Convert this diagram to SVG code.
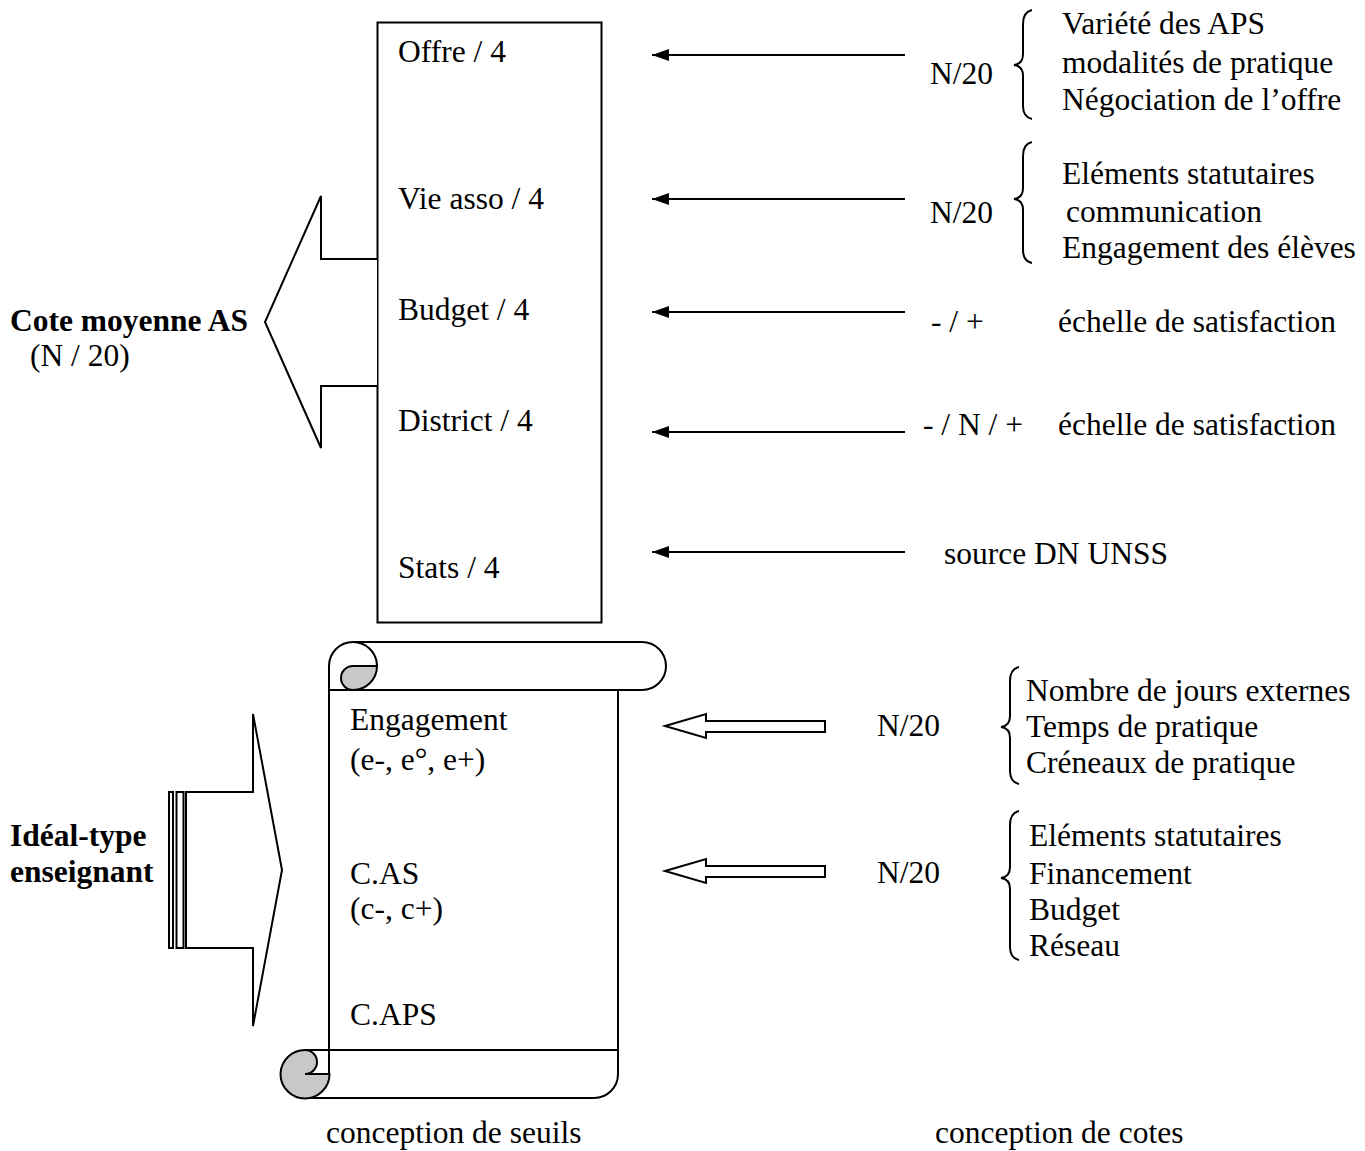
<svg xmlns="http://www.w3.org/2000/svg" width="1365" height="1151" viewBox="0 0 1365 1151">
<style>
text{font-family:"Liberation Serif","Times New Roman",serif;font-size:31.5px;fill:#000}
.b{font-weight:bold}
.s{fill:none;stroke:#000;stroke-width:2}
.h{fill:#fff;stroke:#000;stroke-width:2;stroke-linejoin:miter}
.g{fill:#c8c8c8;stroke:#000;stroke-width:2}
</style>
<defs>
<marker id="ah" markerUnits="userSpaceOnUse" markerWidth="18" markerHeight="14" refX="17" refY="7" orient="auto">
<path d="M17,7 L0,1 L0,13 Z" fill="#000"/>
</marker>
</defs>
<rect width="1365" height="1151" fill="#fff"/>

<g id="main-box">
<rect x="377.5" y="22.5" width="224" height="600" class="s"/>
<text x="398" y="62">Offre / 4</text>
<text x="398" y="209">Vie asso / 4</text>
<text x="398" y="320">Budget / 4</text>
<text x="398" y="431">District / 4</text>
<text x="398" y="578">Stats / 4</text>
</g>

<g id="cote-arrow">
<path class="h" d="M377,259 L321,259 L321,196 L265,322 L321,448 L321,386 L377,386"/>
<text class="b" x="10" y="331">Cote moyenne AS</text>
<text x="30" y="366">(N / 20)</text>
</g>

<g id="scroll">
<path class="s" d="M329,1074 L329,666 A24,24 0 0 1 353,642 L642,642 A24,24 0 0 1 642,690 L329,690"/>
<path class="s" d="M353,642 A24,24 0 0 1 377,666"/>
<path class="g" d="M353,666 L377,666 A24,24 0 0 1 353,690 A12,12 0 0 1 353,666 Z"/>
<path class="s" d="M618,690 L618,1074 A24,24 0 0 1 594,1098 L305,1098"/>
<path class="s" d="M305,1050 L618,1050"/>
<path class="g" d="M305,1050 A12,12 0 0 1 305,1074 L329.5,1074 A24.5,24.5 0 0 1 305,1098.5 A24.5,24.5 0 0 1 280.5,1074 A24.5,24.5 0 0 1 305,1050 Z"/>
<text x="350" y="730">Engagement</text>
<text x="350" y="770">(e-, e°, e+)</text>
<text x="350" y="884">C.AS</text>
<text x="350" y="919">(c-, c+)</text>
<text x="350" y="1025">C.APS</text>
</g>

<g id="ideal-arrow">
<rect x="169" y="792" width="4" height="156" class="s" stroke-width="1.5"/>
<rect x="176.5" y="792" width="7" height="156" class="s" stroke-width="1.5"/>
<path class="h" d="M186,792 L253,792 L253,714 L282,870 L253,1026 L253,948 L186,948 Z"/>
<text class="b" x="10" y="846">Idéal-type</text>
<text class="b" x="10" y="882">enseignant</text>
</g>

<g id="connectors">
<line class="s" x1="905" y1="55" x2="652" y2="55" marker-end="url(#ah)"/>
<line class="s" x1="905" y1="199" x2="652" y2="199" marker-end="url(#ah)"/>
<line class="s" x1="905" y1="312" x2="652" y2="312" marker-end="url(#ah)"/>
<line class="s" x1="905" y1="432" x2="652" y2="432" marker-end="url(#ah)"/>
<line class="s" x1="905" y1="552" x2="652" y2="552" marker-end="url(#ah)"/>
<path class="h" d="M665,726 L706,714 L706,721 L825,721 L825,732 L706,732 L706,738 Z"/>
<path class="h" d="M665,871 L706,859 L706,866 L825,866 L825,877 L706,877 L706,883 Z"/>
</g>

<g id="offre-criteria">
<text x="930" y="84">N/20</text>
<path class="s" stroke-width="1.5" d="M1032,10 Q1023,12 1023,24 L1023,54 Q1023,64 1014,65 Q1023,66 1023,76 L1023,106 Q1023,117 1032,119"/>
<text x="1062" y="34">Variété des APS</text>
<text x="1062" y="73">modalités de pratique</text>
<text x="1062" y="110">Négociation de l’offre</text>
</g>

<g id="vie-criteria">
<text x="930" y="223">N/20</text>
<path class="s" stroke-width="1.5" d="M1032,142 Q1023,144 1023,156 L1023,188 Q1023,198 1014,199 Q1023,200 1023,210 L1023,250 Q1023,261 1032,263"/>
<text x="1062" y="184">Eléments statutaires</text>
<text x="1066" y="222">communication</text>
<text x="1062" y="258">Engagement des élèves</text>
</g>

<g id="budget-scale">
<text x="931" y="332">- / +</text>
<text x="1058" y="332">échelle de satisfaction</text>
</g>
<g id="district-scale">
<text x="923" y="435">- / N / +</text>
<text x="1058" y="435">échelle de satisfaction</text>
</g>
<g id="stats-source">
<text x="944" y="564">source DN UNSS</text>
</g>

<g id="engagement-criteria">
<text x="877" y="736">N/20</text>
<path class="s" stroke-width="1.5" d="M1019,667 Q1010,669 1010,681 L1010,716 Q1010,726 1001,727 Q1010,728 1010,738 L1010,771 Q1010,782 1019,784"/>
<text x="1026" y="701">Nombre de jours externes</text>
<text x="1026" y="737">Temps de pratique</text>
<text x="1026" y="773">Créneaux de pratique</text>
</g>

<g id="cas-criteria">
<text x="877" y="883">N/20</text>
<path class="s" stroke-width="1.5" d="M1019,811 Q1010,813 1010,825 L1010,867 Q1010,877 1001,878 Q1010,879 1010,889 L1010,947 Q1010,958 1019,960"/>
<text x="1029" y="846">Eléments statutaires</text>
<text x="1029" y="884">Financement</text>
<text x="1029" y="920">Budget</text>
<text x="1029" y="956">Réseau</text>
</g>

<g id="footer">
<text x="326" y="1143">conception de seuils</text>
<text x="935" y="1143">conception de cotes</text>
</g>
</svg>
